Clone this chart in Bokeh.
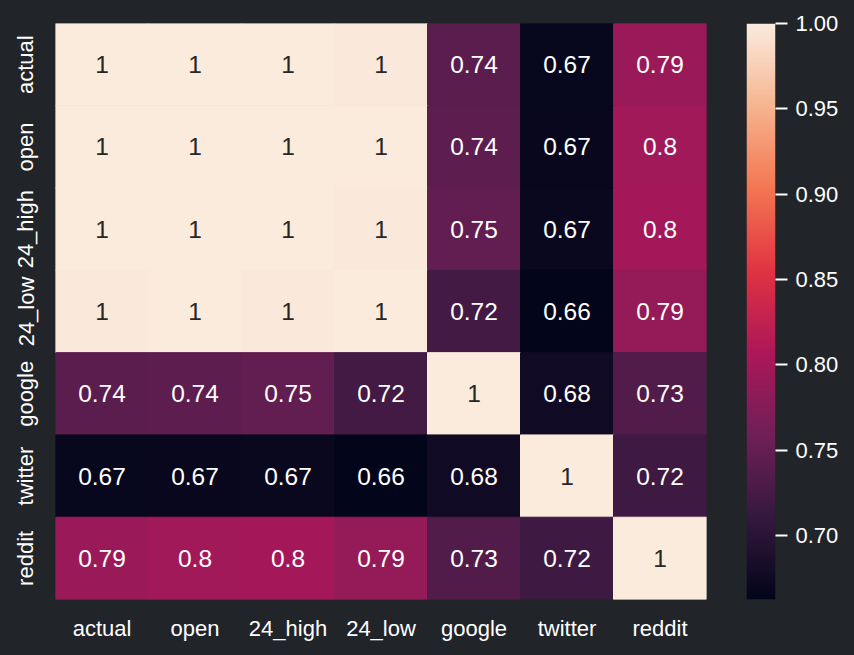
import numpy as np
from bokeh.plotting import figure
from bokeh.models import LinearColorMapper, ColumnDataSource, FixedTicker, Range1d, PrintfTickFormatter
from bokeh.layouts import row
from bokeh.transform import transform
from bokeh.core.properties import value
from bokeh.embed import file_html
from bokeh.resources import INLINE

cats = ["actual", "open", "24_high", "24_low", "google", "twitter", "reddit"]
row_actual  = [1.000, 0.999, 0.999, 0.998, 0.742, 0.667, 0.793]
row_open    = [0.999, 1.000, 0.999, 0.999, 0.743, 0.668, 0.797]
row_24high  = [0.999, 0.999, 1.000, 0.998, 0.748, 0.670, 0.800]
row_24low   = [0.998, 0.999, 0.998, 1.000, 0.722, 0.6625, 0.788]
row_google  = [0.742, 0.743, 0.748, 0.722, 1.000, 0.677, 0.734]
row_twitter = [0.667, 0.668, 0.670, 0.6625, 0.677, 1.000, 0.718]
row_reddit  = [0.793, 0.797, 0.800, 0.788, 0.734, 0.718, 1.000]
rows = [row_actual, row_open, row_24high, row_24low, row_google, row_twitter, row_reddit]
cbar_ticks = [0.70, 0.75, 0.80, 0.85, 0.90, 0.95, 1.00]

vmin = min(min(r) for r in rows)
vmax = max(max(r) for r in rows)

# rocket-like palette
anchors = ["#03051A", "#35193e", "#701f57", "#ad1759", "#e13342", "#f37651", "#f6b48f", "#FAEBDD"]
def h2rgb(h):
    h = h.lstrip("#")
    return [int(h[i:i+2], 16) for i in (0, 2, 4)]
arr = np.array([h2rgb(a) for a in anchors], dtype=float)
pos = np.linspace(0, 1, len(anchors))
t = np.linspace(0, 1, 256)
palette = []
for tt in t:
    c = [np.interp(tt, pos, arr[:, k]) for k in range(3)]
    palette.append("#%02x%02x%02x" % tuple(int(round(v)) for v in c))

mapper = LinearColorMapper(palette=palette, low=vmin, high=vmax)

bg = "#212429"
font = "Liberation Sans"

xs, ys, vs, labels, tcs = [], [], [], [], []
for i, rname in enumerate(cats):
    for j, cname in enumerate(cats):
        v = rows[i][j]
        xs.append(cname); ys.append(rname); vs.append(v)
        labels.append(format(v, ".2g"))
        tcs.append("#262626" if (v - vmin) / (vmax - vmin) > 0.6 else "white")
src = ColumnDataSource(dict(x=xs, y=ys, v=vs, label=labels, tc=tcs))

p = figure(width=720, height=655, x_range=cats, y_range=list(reversed(cats)),
           output_backend="svg", toolbar_location=None,
           min_border_left=55, min_border_right=14, min_border_top=23, min_border_bottom=56)
p.background_fill_color = bg
p.border_fill_color = bg
p.outline_line_color = None
p.grid.visible = False
p.rect(x="x", y="y", width=1, height=1, source=src,
       fill_color=transform("v", mapper), line_color=transform("v", mapper), line_width=1)
p.text(x="x", y="y", text="label", source=src, text_color="tc", text_align="center",
       text_baseline="middle", text_font=value(font), text_font_size="24.5px")
for ax in (p.xaxis, p.yaxis):
    ax.axis_line_color = None
    ax.major_tick_line_color = None
    ax.minor_tick_line_color = None
    ax.major_label_text_color = "white"
    ax.major_label_text_font = font
    ax.major_label_text_font_size = "22px"
p.xaxis.major_label_standoff = 10
p.yaxis.major_label_standoff = 11
p.yaxis.major_label_orientation = "vertical"

p2 = figure(width=134, height=655, x_range=Range1d(0, 1), y_range=Range1d(vmin, vmax),
            output_backend="svg", toolbar_location=None, x_axis_location=None,
            y_axis_location="right",
            min_border_left=26, min_border_right=79, min_border_top=23, min_border_bottom=56)
p2.background_fill_color = bg
p2.border_fill_color = bg
p2.outline_line_color = None
p2.grid.visible = False
grad = np.linspace(vmin, vmax, 512).reshape(512, 1)
p2.image(image=[grad], x=0, y=vmin, dw=1, dh=vmax - vmin, color_mapper=mapper)
ya = p2.yaxis[0]
ya.ticker = FixedTicker(ticks=cbar_ticks)
ya.formatter = PrintfTickFormatter(format="%.2f")
ya.axis_line_color = None
ya.minor_tick_line_color = None
ya.major_tick_line_color = "white"
ya.major_tick_line_width = 2
ya.major_tick_out = 12
ya.major_tick_in = 0
ya.major_label_standoff = 8
ya.major_label_text_color = "white"
ya.major_label_text_font = font
ya.major_label_text_font_size = "22px"

layout = row(p, p2, spacing=0, styles={"background-color": bg})
html = file_html(layout, INLINE)
html = html.replace("<body>", '<body style="margin:0;background-color:%s">' % bg, 1)
open("out.html", "w").write(html)
